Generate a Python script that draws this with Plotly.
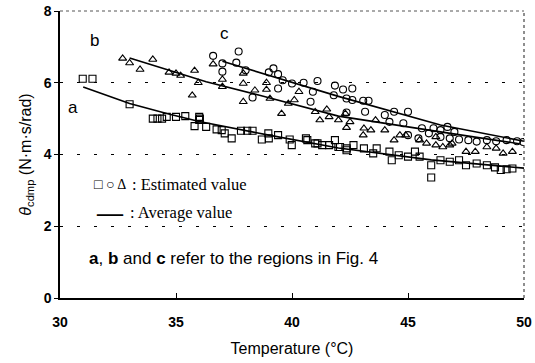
import plotly.graph_objects as go

# ---- data ----
sq_x = [30.98, 31.4, 33.0, 34.0, 34.2, 34.4, 34.6, 35.0, 35.4, 35.8, 36.0, 36.0, 36.03, 36.3, 36.75,
        36.97, 37.1, 37.4, 37.8, 38.07, 38.3, 38.7, 38.98, 39.0, 39.4, 39.9, 39.99, 40.6, 40.66, 41.0,
        41.1, 41.3, 41.6, 41.85, 42.0, 42.07, 42.36, 42.35, 42.65, 43.1, 43.5, 43.65, 44.2, 44.3, 44.6,
        45.0, 45.3, 45.5, 46.0, 46.0, 46.4, 46.8, 47.2, 47.5, 47.96, 48.4, 48.75, 49.0, 49.25, 49.5]
sq_y = [6.11, 6.11, 5.40, 5.0, 5.0, 5.0, 5.05, 5.05, 5.07, 4.79, 4.96, 5.05, 5.0, 4.77, 4.70,
        4.68, 4.59, 4.45, 4.66, 4.66, 4.66, 4.42, 4.59, 4.45, 4.54, 4.42, 4.26, 4.45, 4.40, 4.31,
        4.31, 4.26, 4.26, 4.40, 4.21, 4.21, 4.17, 4.12, 4.26, 4.17, 4.03, 4.17, 4.08, 3.84, 3.98,
        3.94, 4.08, 3.94, 3.70, 3.36, 3.84, 3.80, 3.84, 3.70, 3.75, 3.70, 3.64, 3.57, 3.59, 3.61]

ci_x = [36.6, 37.0, 37.0, 37.6, 37.7, 38.3, 38.0, 39.0, 39.2, 39.4, 39.6, 39.4, 40.0, 40.5, 41.1,
        40.9, 40.8, 41.85, 42.2, 42.35, 41.8, 42.35, 42.6, 42.6, 43.07, 43.3, 43.15, 44.0, 44.4, 45.0,
        44.8, 44.2, 45.6, 46.1, 46.4, 46.7, 46.4, 46.8, 47.2, 47.6, 47.96, 48.4, 48.8, 49.25, 49.7,
        49.97, 45.9, 45.45, 47.0, 45.0]
ci_y = [6.75, 6.54, 6.31, 6.56, 6.87, 5.59, 6.35, 6.29, 6.40, 6.24, 6.07, 5.84, 5.98, 6.0, 6.05,
        5.75, 5.47, 5.92, 5.81, 5.56, 5.65, 5.17, 5.84, 5.52, 5.50, 5.50, 5.19, 5.10, 5.19, 5.19,
        4.87, 4.91, 4.73, 4.73, 4.68, 4.77, 4.49, 4.45, 4.42, 4.40, 4.36, 4.40, 4.37, 4.40, 4.37,
        4.35, 4.59, 4.45, 4.63, 4.54]

tr_x = [32.7, 33.0, 33.45, 34.0, 34.7, 35.0, 35.2, 35.8, 35.96, 35.7, 36.6, 37.0, 37.0, 37.9, 37.9,
        38.4, 37.9, 38.9, 38.9, 39.05, 39.55, 39.84, 40.1, 40.3, 41.0, 41.2, 41.5, 41.6, 42.0, 42.35,
        42.3, 42.5, 43.07, 43.1, 43.4, 43.6, 44.0, 44.4, 44.65, 44.9, 45.5, 45.8, 46.2, 46.5, 46.8,
        47.5, 47.9, 48.4, 48.8, 49.1, 49.5, 46.2, 46.9]
tr_y = [6.68, 6.55, 6.37, 6.65, 6.29, 6.26, 6.2, 6.34, 6.0, 5.65, 6.52, 6.09, 5.89, 6.26, 5.98,
        5.79, 5.47, 5.81, 6.0, 5.56, 5.14, 5.42, 5.52, 5.75, 5.19, 4.96, 5.26, 5.05, 4.96, 4.75,
        5.14, 4.91, 4.54, 4.73, 4.68, 4.96, 4.68, 4.40, 4.54, 4.54, 4.40, 4.31, 4.26, 4.21, 4.26,
        4.08, 4.08, 4.21, 4.17, 4.03, 4.08, 4.49, 4.31]

avg_a_x = [31.0, 33.0, 34.6, 36.0, 39.0, 42.0, 46.0, 50.0]
avg_a_y = [5.88, 5.42, 5.14, 4.92, 4.54, 4.18, 3.85, 3.62]
avg_b_x = [33.0, 36.3, 38.6, 42.0, 46.4, 49.8]
avg_b_y = [6.69, 6.03, 5.65, 5.07, 4.63, 4.30]
avg_c_x = [37.0, 38.6, 42.0, 46.4, 50.0]
avg_c_y = [6.60, 6.28, 5.62, 4.82, 4.37]

region_labels = ["a", "b", "c"]
region_x = [30.56, 31.5, 37.1]
region_y = [5.32, 7.19, 7.38]

x_ticks = [30, 35, 40, 45, 50]
y_ticks = [0, 2, 4, 6, 8]

# ---- figure ----
fig = go.Figure()
mk = dict(color="black", size=7, line=dict(color="black", width=1.1))
fig.add_trace(go.Scatter(x=sq_x, y=sq_y, mode="markers", marker=dict(symbol="square-open", **mk)))
fig.add_trace(go.Scatter(x=ci_x, y=ci_y, mode="markers", marker=dict(symbol="circle-open", **mk)))
fig.add_trace(go.Scatter(x=tr_x, y=tr_y, mode="markers", marker=dict(symbol="triangle-up-open", **mk)))
for ax_, ay_ in [(avg_a_x, avg_a_y), (avg_b_x, avg_b_y), (avg_c_x, avg_c_y)]:
    fig.add_trace(go.Scatter(x=ax_, y=ay_, mode="lines", line=dict(color="black", width=1.6)))

sans = "Liberation Sans, Arial"
serif = "Liberation Serif, Times New Roman"
for lab, lx, ly in zip(region_labels, region_x, region_y):
    fig.add_annotation(x=lx, y=ly, text=lab, showarrow=False,
                       font=dict(family=sans, size=17, color="black"))

fig.add_annotation(x=31.38, y=3.15, xanchor="left", text="□ ○ Δ", showarrow=False,
                   font=dict(family=serif, size=14, color="black"))
fig.add_annotation(x=33.0, y=3.15, xanchor="left", text=": Estimated value", showarrow=False,
                   font=dict(family=serif, size=16.5, color="black"))
fig.add_annotation(x=31.45, y=2.37, xanchor="left", text="<b>—</b>", showarrow=False,
                   font=dict(family=serif, size=26, color="black"))
fig.add_annotation(x=32.93, y=2.37, xanchor="left", text=": Average value", showarrow=False,
                   font=dict(family=serif, size=16.5, color="black"))
fig.add_annotation(x=31.16, y=1.11, xanchor="left",
                   text="<b>a</b>, <b>b</b> and <b>c</b> refer to the regions in Fig. 4",
                   showarrow=False, font=dict(family=sans, size=17, color="black"))

# top and right dotted border
fig.add_shape(type="line", xref="paper", yref="paper", x0=0, x1=1, y0=1, y1=1,
              line=dict(color="#555", width=1, dash="dot"))
fig.add_shape(type="line", xref="paper", yref="paper", x0=1, x1=1, y0=0, y1=1,
              line=dict(color="#444", width=1.2, dash="dot"))

fig.update_layout(
    width=535, height=363,
    margin=dict(l=60, r=11, t=11, b=65),
    paper_bgcolor="white", plot_bgcolor="white",
    showlegend=False,
    font=dict(family=sans, color="black"),
    xaxis=dict(range=[30, 50], tickvals=x_ticks, ticks="inside", ticklen=5, tickcolor="black",
               showline=True, linecolor="black", linewidth=1.5, showgrid=False, zeroline=False,
               automargin=False, ticklabelstandoff=10,
               tickfont=dict(size=14, family=sans, weight="bold"),
               title=dict(text="Temperature (°C)", font=dict(size=16), standoff=14)),
    yaxis=dict(range=[0, 8], tickvals=y_ticks, ticks="outside", ticklen=4, tickcolor="black",
               showline=True, linecolor="black", linewidth=1.5, zeroline=False, automargin=False,
               showgrid=True, gridcolor="black", gridwidth=1, griddash="3px,14px",
               tickfont=dict(size=14, family=sans, weight="bold"),
               title=dict(text="<i>θ</i><sub>cdmp</sub> (N·m·s/rad)", font=dict(size=16), standoff=8)),
)

fig.write_html("out.html")
